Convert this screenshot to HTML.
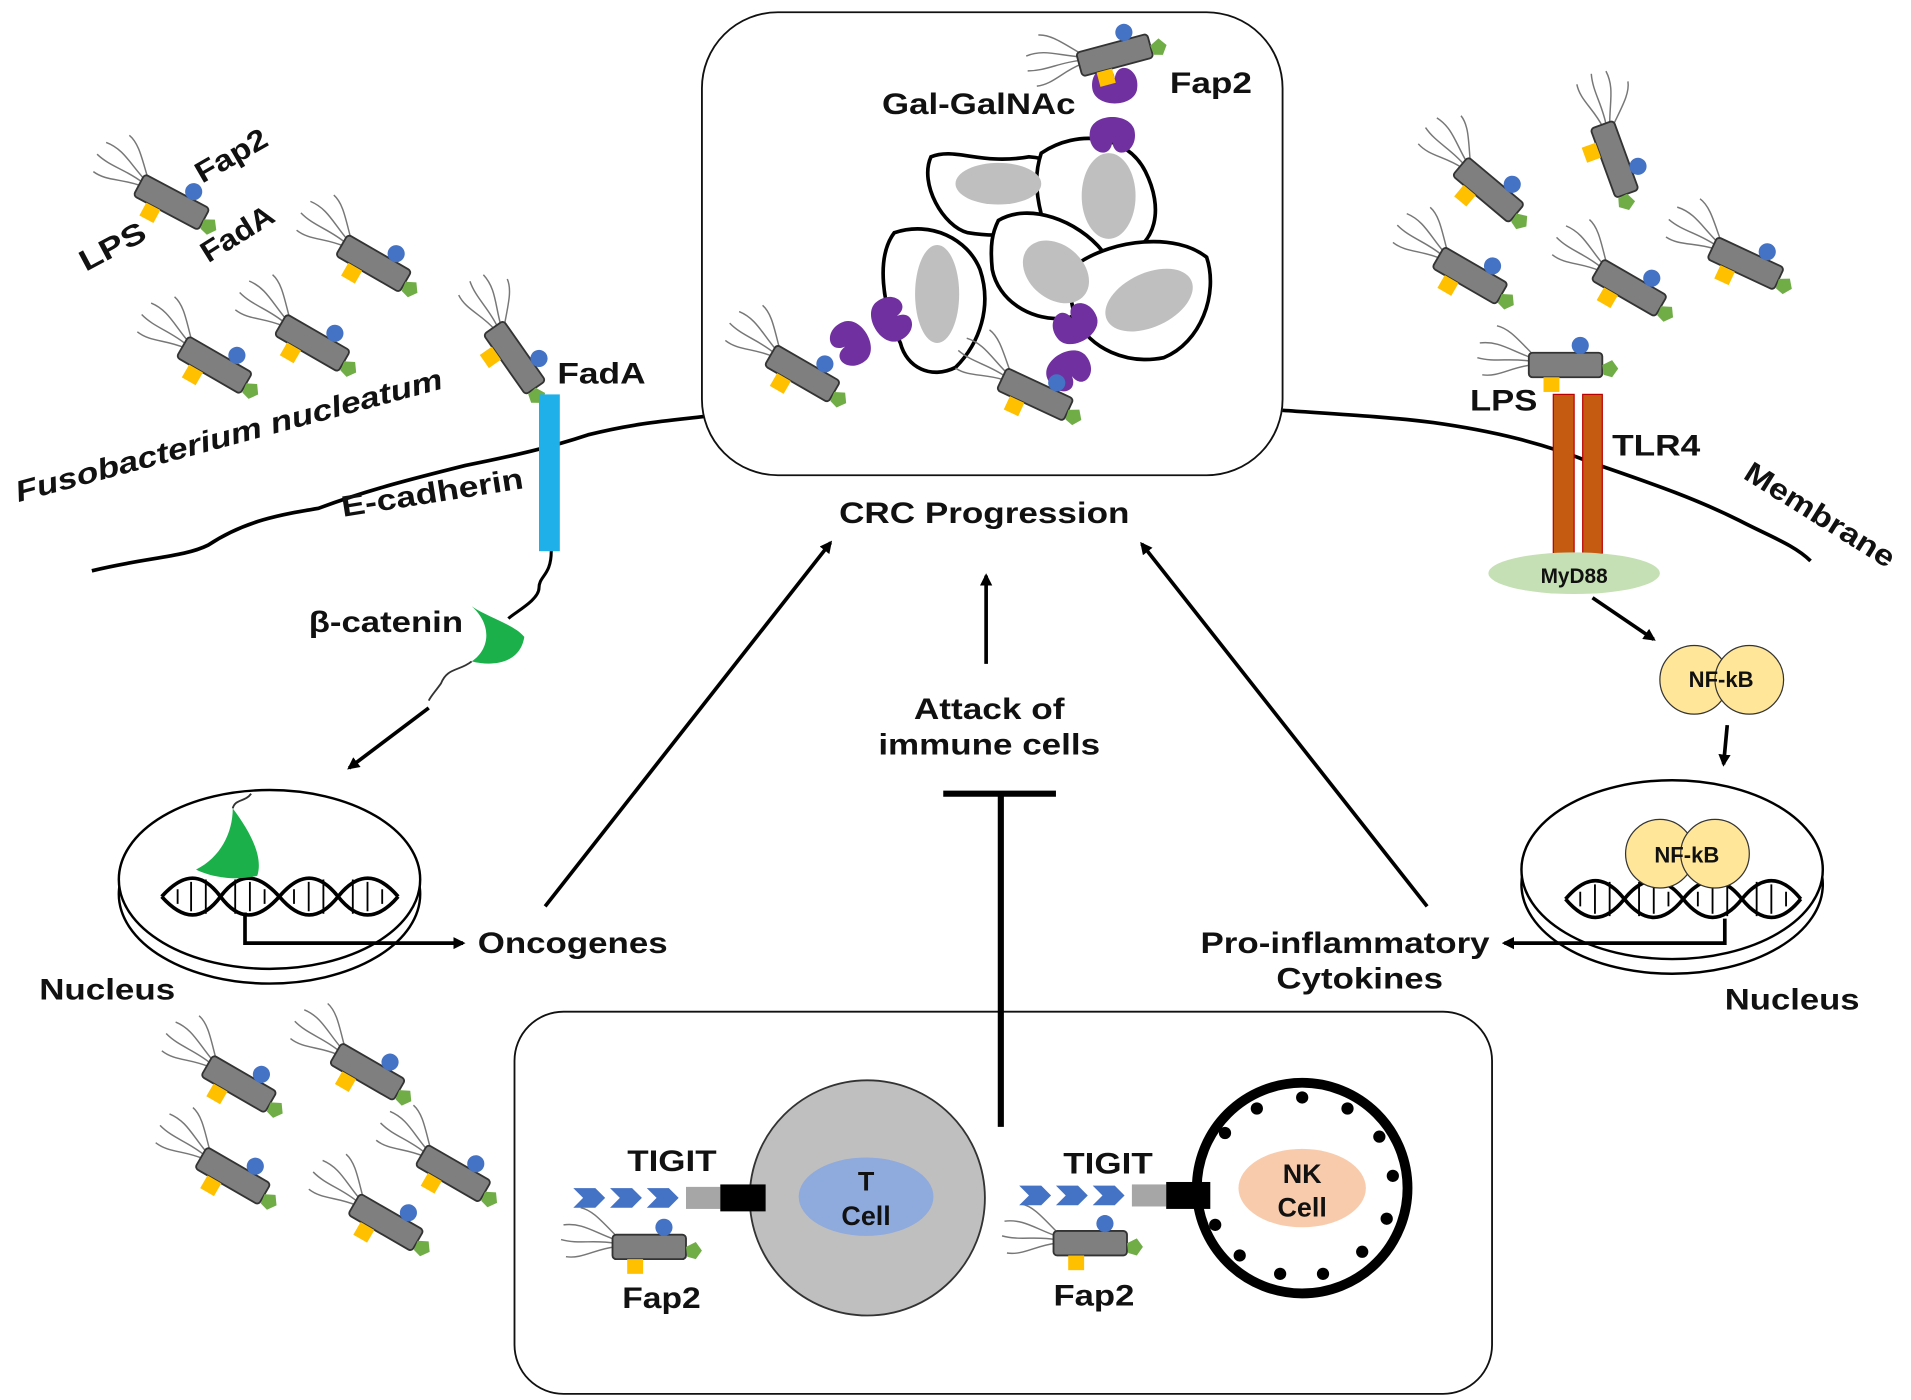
<!DOCTYPE html>
<html><head><meta charset="utf-8"><style>
html,body{margin:0;padding:0;background:#fff}
svg{display:block}
text{font-family:"Liberation Sans",Arial,sans-serif;font-weight:bold;fill:#111}
</style></head><body>
<svg width="1911" height="1400" viewBox="0 0 1560 1143" preserveAspectRatio="none" xmlns="http://www.w3.org/2000/svg">
<defs>
<marker id="ar" markerWidth="10" markerHeight="10" refX="8" refY="5" orient="auto" markerUnits="userSpaceOnUse"><path d="M0,0 L10,5 L0,10 z" fill="#000"/></marker>
<g id="bac">
 <path d="M-28,-6 C-45,-12 -55,-20 -70,-18 M-28,-3 C-45,-6 -58,-2 -72,-6 M-28,0 C-45,2 -55,10 -68,8 M-26,-8 C-38,-20 -46,-30 -56,-32" stroke="#777" stroke-width="1.2" fill="none"/>
 <rect x="-30" y="-10" width="60" height="20" rx="3" fill="#7f7f7f" stroke="#333" stroke-width="1.5"/>
 <circle cx="12" cy="-16" r="7" fill="#4472c4"/>
 <rect x="-18" y="10" width="13" height="12" fill="#ffc000"/>
 <path d="M30,0 L38,-4 L43,3 L38,10 L31,8z" fill="#70ad47"/>
</g>
<g id="rec"><path d="M-18,-4 C-22,-22 -2,-30 0,-14 C2,-30 22,-22 18,-4 C14,10 -14,10 -18,-4z" fill="#7030a0"/></g>
</defs>
<path d="M75,466 C120,455 150,455 170,445 C200,425 230,420 260,415 C300,400 340,390 380,380 C420,372 450,365 480,355 C520,345 550,343 575,340" stroke="#000" stroke-width="3" fill="none"/>
<path d="M1047,335 C1090,338 1130,340 1170,345 C1220,352 1260,362 1300,378 C1340,392 1380,405 1420,425 C1445,438 1465,445 1478,458" stroke="#000" stroke-width="3" fill="none"/>
<rect x="573" y="10" width="474" height="378" rx="62" fill="#fff" stroke="#111" stroke-width="1.5"/>
<rect x="420" y="826" width="798" height="312" rx="40" fill="#fff" stroke="#111" stroke-width="1.5"/>
<g stroke="#000" stroke-width="3" fill="#fff">
<path d="M760,128 C780,120 800,135 840,128 C870,130 880,150 860,175 C850,190 820,195 790,190 C770,185 750,150 760,128z"/>
<path d="M730,190 C760,180 790,195 800,220 C810,250 800,280 780,300 C760,310 740,300 735,280 C720,250 715,210 730,190z"/>
<path d="M850,125 C880,105 920,110 935,140 C950,170 945,200 915,210 C885,215 860,200 850,175 C845,155 845,140 850,125z"/>
<path d="M815,180 C840,165 880,180 900,205 C910,230 890,255 870,260 C840,262 815,245 810,220 C808,200 810,190 815,180z"/>
<path d="M880,215 C910,195 960,190 985,210 C995,240 980,280 950,292 C920,298 890,285 878,260 C872,240 872,225 880,215z"/>
</g>
<g fill="#bfbfbf">
<ellipse cx="815" cy="150" rx="35" ry="17"/>
<ellipse cx="765" cy="240" rx="18" ry="40"/>
<ellipse cx="905" cy="160" rx="22" ry="35"/>
<ellipse cx="862" cy="222" rx="30" ry="22" transform="rotate(40 862 222)"/>
<ellipse cx="938" cy="245" rx="38" ry="22" transform="rotate(-25 938 245)"/>
</g>
<use href="#rec" transform="translate(910,78) rotate(0)"/>
<use href="#rec" transform="translate(908,102) rotate(180)"/>
<use href="#rec" transform="translate(702,276) rotate(-120)"/>
<use href="#rec" transform="translate(720,265) rotate(60)"/>
<use href="#rec" transform="translate(868,295) rotate(150)"/>
<use href="#rec" transform="translate(882,272) rotate(-30)"/>
<use href="#bac" transform="translate(140,165) rotate(28)"/>
<use href="#bac" transform="translate(305,215) rotate(30)"/>
<use href="#bac" transform="translate(255,280) rotate(30)"/>
<use href="#bac" transform="translate(175,298) rotate(30)"/>
<use href="#bac" transform="translate(420,292) rotate(55)"/>
<use href="#bac" transform="translate(655,305) rotate(30)"/>
<use href="#bac" transform="translate(845,322) rotate(25)"/>
<use href="#bac" transform="translate(910,45) rotate(-15)"/>
<use href="#bac" transform="translate(1215,155) rotate(40)"/>
<use href="#bac" transform="translate(1318,130) rotate(70)"/>
<use href="#bac" transform="translate(1200,225) rotate(30)"/>
<use href="#bac" transform="translate(1330,235) rotate(30)"/>
<use href="#bac" transform="translate(1425,215) rotate(25)"/>
<use href="#bac" transform="translate(1278,298) rotate(0)"/>
<use href="#bac" transform="translate(195,885) rotate(30)"/>
<use href="#bac" transform="translate(300,875) rotate(30)"/>
<use href="#bac" transform="translate(190,960) rotate(30)"/>
<use href="#bac" transform="translate(370,958) rotate(30)"/>
<use href="#bac" transform="translate(315,998) rotate(30)"/>
<use href="#bac" transform="translate(530,1018)"/>
<use href="#bac" transform="translate(890,1015)"/>
<rect x="440" y="322" width="17" height="128" fill="#1fb0ea"/>
<path d="M450,450 C450,470 440,470 440,480 C440,490 420,500 415,505" stroke="#000" stroke-width="2.5" fill="none"/>
<path d="M385,495 C400,505 420,510 428,520 C425,540 405,545 385,540 C400,530 402,510 385,495z" fill="#1bb04a"/>
<path d="M385,540 C375,548 365,545 360,558 C355,565 352,568 350,572" stroke="#333" stroke-width="1.5" fill="none"/>
<rect x="1268" y="322" width="17" height="130" fill="#c55a11" stroke="#b00" stroke-width="1"/>
<rect x="1292" y="322" width="16" height="130" fill="#c55a11" stroke="#b00" stroke-width="1"/>
<ellipse cx="1285" cy="468" rx="70" ry="17" fill="#c5e0b4"/>
<text x="1285" y="476" font-size="17" text-anchor="middle">MyD88</text>
<circle cx="1383" cy="555" r="28" fill="#ffe699" stroke="#333" stroke-width="1"/>
<circle cx="1428" cy="555" r="28" fill="#ffe699" stroke="#333" stroke-width="1"/>
<text x="1405" y="561" font-size="18" text-anchor="middle">NF-kB</text>
<g stroke="#000" stroke-width="2" fill="#fff">
<ellipse cx="220" cy="730" rx="123" ry="73"/>
<ellipse cx="220" cy="718" rx="123" ry="73"/>
<ellipse cx="1365" cy="722" rx="123" ry="73"/>
<ellipse cx="1365" cy="710" rx="123" ry="73"/>
</g>
<g stroke="#000" stroke-width="3" fill="none">
<path d="M132,732 C150,712 165,712 180,732 C195,752 210,752 228,732 C245,712 260,712 276,732 C292,752 308,752 325,732 M132,732 C150,752 165,752 180,732 C195,712 210,712 228,732 C245,752 260,752 276,732 C292,712 308,712 325,732"/>
<path d="M1278,734 C1295,714 1310,714 1326,734 C1342,754 1358,754 1374,734 C1390,714 1406,714 1422,734 C1438,754 1454,754 1470,734 M1278,734 C1295,754 1310,754 1326,734 C1342,714 1358,714 1374,734 C1390,754 1406,754 1422,734 C1438,714 1454,714 1470,734"/>
</g>
<g stroke="#000" stroke-width="1.5">
<path d="M145,726v12M156,720v24M168,718v28M192,718v28M204,720v24M216,726v12M240,726v12M252,720v24M264,718v28M288,718v28M300,720v24M312,726v12"/>
<path d="M1290,728v12M1302,722v24M1314,720v28M1338,720v28M1350,722v24M1362,728v12M1386,728v12M1398,722v24M1410,720v28M1434,720v28M1446,722v24M1458,728v12"/>
</g>
<path d="M190,660 C205,680 215,700 210,715 C190,720 170,715 160,710 C180,700 190,680 190,660z" fill="#1bb04a"/>
<path d="M190,660 C192,652 200,655 205,648" stroke="#333" stroke-width="1.5" fill="none"/>
<circle cx="1355" cy="697" r="28" fill="#ffe699" stroke="#333"/>
<circle cx="1400" cy="697" r="28" fill="#ffe699" stroke="#333"/>
<text x="1377" y="704" font-size="18" text-anchor="middle">NF-kB</text>
<g stroke="#000" stroke-width="3" fill="none" marker-end="url(#ar)">
<path d="M350,578 L285,627"/>
<path d="M445,740 L678,443"/>
<path d="M805,542 L805,470"/>
<path d="M1165,740 L932,444"/>
<path d="M1300,488 L1350,522"/>
<path d="M1410,592 L1407,624"/>
<path d="M200,745 L200,770 L378,770"/>
<path d="M1408,750 L1408,770 L1228,770"/>
</g>
<path d="M817,920 L817,648 M770,648 L862,648" stroke="#000" stroke-width="5" fill="none"/>
<circle cx="708" cy="978" r="96" fill="#bfbfbf" stroke="#333" stroke-width="1.5"/>
<ellipse cx="707" cy="977" rx="55" ry="32" fill="#8faadc"/>
<text x="707" y="972" font-size="22" text-anchor="middle">T</text>
<text x="707" y="1000" font-size="22" text-anchor="middle">Cell</text>
<circle cx="1063" cy="970" r="86" fill="#fff" stroke="#000" stroke-width="8"/>
<g fill="#000">
<circle cx="1063" cy="896" r="5"/><circle cx="1100" cy="905" r="5"/><circle cx="1126" cy="928" r="5"/><circle cx="1137" cy="960" r="5"/><circle cx="1132" cy="995" r="5"/><circle cx="1112" cy="1022" r="5"/><circle cx="1080" cy="1040" r="5"/><circle cx="1045" cy="1040" r="5"/><circle cx="1012" cy="1025" r="5"/><circle cx="992" cy="1000" r="5"/><circle cx="1026" cy="905" r="5"/><circle cx="1000" cy="925" r="5"/>
</g>
<ellipse cx="1063" cy="970" rx="52" ry="32" fill="#f8cbad"/>
<text x="1063" y="966" font-size="22" text-anchor="middle">NK</text>
<text x="1063" y="993" font-size="22" text-anchor="middle">Cell</text>
<g fill="#4472c4">
<path d="M468,970 h18 l8,8 l-8,8 h-18 l8,-8z"/><path d="M498,970 h18 l8,8 l-8,8 h-18 l8,-8z"/><path d="M528,970 h18 l8,8 l-8,8 h-18 l8,-8z"/>
<path d="M832,968 h18 l8,8 l-8,8 h-18 l8,-8z"/><path d="M862,968 h18 l8,8 l-8,8 h-18 l8,-8z"/><path d="M892,968 h18 l8,8 l-8,8 h-18 l8,-8z"/>
</g>
<rect x="560" y="969" width="28" height="18" fill="#a6a6a6"/><rect x="588" y="967" width="37" height="22" fill="#000"/>
<rect x="924" y="967" width="28" height="18" fill="#a6a6a6"/><rect x="952" y="965" width="36" height="22" fill="#000"/>
<g font-size="24" lengthAdjust="spacingAndGlyphs">
<text x="720" y="93" textLength="158" lengthAdjust="spacingAndGlyphs">Gal-GalNAc</text>
<text x="955" y="76" textLength="67" lengthAdjust="spacingAndGlyphs">Fap2</text>
<text x="685" y="427" textLength="237" lengthAdjust="spacingAndGlyphs">CRC Progression</text>
<text x="455" y="313" textLength="72" lengthAdjust="spacingAndGlyphs">FadA</text>
<text x="280" y="422" transform="rotate(-9 280 422)" textLength="150" lengthAdjust="spacingAndGlyphs">E-cadherin</text>
<text x="15" y="410" transform="rotate(-15 15 410)" font-style="italic" textLength="360" lengthAdjust="spacingAndGlyphs">Fusobacterium nucleatum</text>
<text x="252" y="516" textLength="126" lengthAdjust="spacingAndGlyphs">β-catenin</text>
<text x="70" y="222" transform="rotate(-28 70 222)" textLength="58" lengthAdjust="spacingAndGlyphs">LPS</text>
<text x="170" y="215" transform="rotate(-32 170 215)" textLength="66" lengthAdjust="spacingAndGlyphs">FadA</text>
<text x="165" y="150" transform="rotate(-30 165 150)" textLength="64" lengthAdjust="spacingAndGlyphs">Fap2</text>
<text x="32" y="816" textLength="111" lengthAdjust="spacingAndGlyphs">Nucleus</text>
<text x="390" y="778" textLength="155" lengthAdjust="spacingAndGlyphs">Oncogenes</text>
<text x="746" y="587" textLength="123" lengthAdjust="spacingAndGlyphs">Attack of</text>
<text x="717" y="616" textLength="181" lengthAdjust="spacingAndGlyphs">immune cells</text>
<text x="980" y="778" textLength="236" lengthAdjust="spacingAndGlyphs">Pro-inflammatory</text>
<text x="1042" y="807" textLength="136" lengthAdjust="spacingAndGlyphs">Cytokines</text>
<text x="1408" y="824" textLength="110" lengthAdjust="spacingAndGlyphs">Nucleus</text>
<text x="1200" y="335" textLength="55" lengthAdjust="spacingAndGlyphs">LPS</text>
<text x="1316" y="372" textLength="72" lengthAdjust="spacingAndGlyphs">TLR4</text>
<text x="1422" y="390" transform="rotate(32 1422 390)" textLength="140" lengthAdjust="spacingAndGlyphs">Membrane</text>
<text x="512" y="956" textLength="73" lengthAdjust="spacingAndGlyphs">TIGIT</text>
<text x="868" y="958" textLength="73" lengthAdjust="spacingAndGlyphs">TIGIT</text>
<text x="508" y="1068" textLength="64" lengthAdjust="spacingAndGlyphs">Fap2</text>
<text x="860" y="1066" textLength="66" lengthAdjust="spacingAndGlyphs">Fap2</text>
</g>
</svg>
</body></html>
